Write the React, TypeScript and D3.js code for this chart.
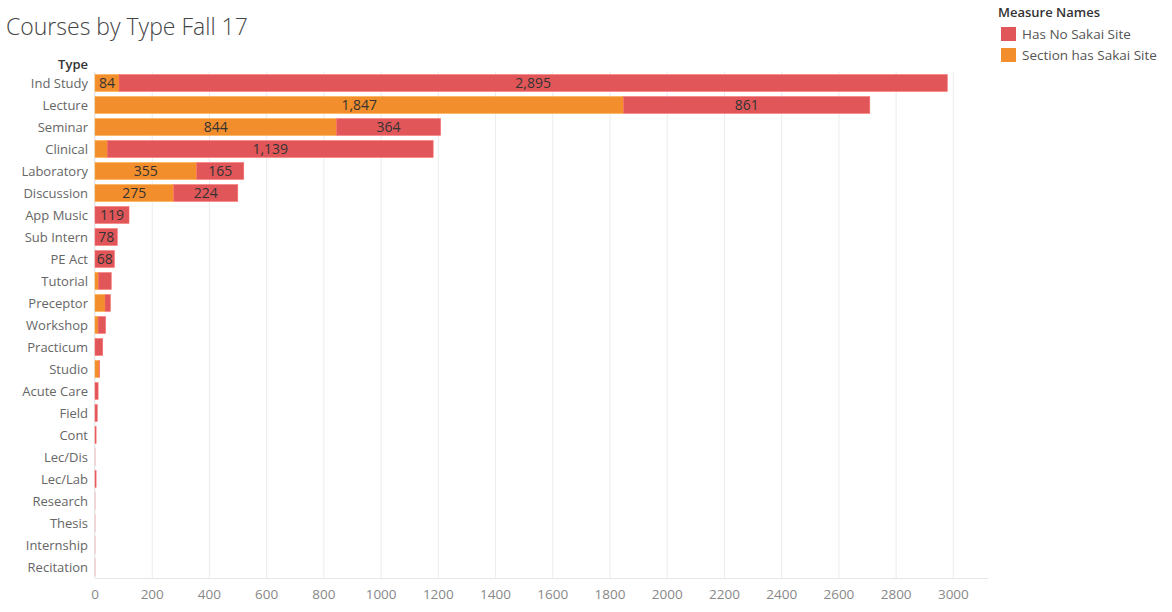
import React from "react";
import * as d3 from "d3";

const categories = ["Ind Study","Lecture","Seminar","Clinical","Laboratory","Discussion","App Music","Sub Intern","PE Act","Tutorial","Preceptor","Workshop","Practicum","Studio","Acute Care","Field","Cont","Lec/Dis","Lec/Lab","Research","Thesis","Internship","Recitation"];
const sectionHasSakai = [84,1847,844,43,355,275,0,0,0,12,35,11,0,14,0,0,0,0,0,0,0,0,0];
const hasNoSakai = [2895,861,364,1139,165,224,119,78,68,45,19,26,27,2,11,8,4,0.5,4,0.5,0.5,0.5,0.5];
const xTicks = [0,200,400,600,800,1000,1200,1400,1600,1800,2000,2200,2400,2600,2800,3000];
const seriesNames = ["Has No Sakai Site","Section has Sakai Site"];
const seriesColors = ["#E15759","#F28E2B"];

const FONT = "'Open Sans', 'Noto Sans', sans-serif";

export default function App() {
  const W = 1172, H = 612;
  const left = 95, right = 988, top = 72, bottom = 578;
  const x = d3.scaleLinear().domain([0, 3000]).range([left, left + 3000 * 0.28612]);
  const y = d3.scaleBand().domain(categories).range([top, bottom]).paddingInner(0.23).paddingOuter(0.115);
  const fmt = d3.format(",");
  const charW = 7.8;

  const bars: any[] = [];
  categories.forEach((c, i) => {
    const o = sectionHasSakai[i];
    const r = hasNoSakai[i];
    const segs = [
      { v: o, x0: 0, x1: o, color: seriesColors[1] },
      { v: r, x0: o, x1: o + r, color: seriesColors[0] },
    ];
    segs.forEach((s, j) => {
      if (s.v <= 0) return;
      const px0 = x(s.x0), px1 = x(s.x1);
      const w = px1 - px0;
      const label = fmt(s.v);
      const showLabel = w >= label.length * charW + 2;
      const pale = s.v < 1;
      bars.push(
        <g key={c + j}>
          <rect x={px0} y={y(c)} width={w} height={y.bandwidth()} fill={s.color}
            stroke={pale ? "#f3c9c9" : d3.color(s.color)!.brighter(0.5).toString()} strokeWidth={pale ? 1 : 0.6} strokeOpacity={pale ? 0.7 : 0.8} />
          {showLabel && (
            <text x={(px0 + px1) / 2} y={y(c)! + y.bandwidth() / 2} dy="0.36em" textAnchor="middle"
              fontSize={14} fill="#333" fontFamily={FONT}>{label}</text>
          )}
        </g>
      );
    });
  });

  return (
    <svg width={W} height={H} style={{ position: "absolute", left: 0, top: 0 }} fontFamily={FONT}>
      <rect width={W} height={H} fill="#fff" />
      <text x={6} y={35} fontSize={23} fill="#444" fontWeight={300}>Courses by Type Fall 17</text>
      {xTicks.map(t => (
        <line key={t} x1={x(t)} x2={x(t)} y1={top} y2={bottom} stroke="#ececec" strokeWidth={1} />
      ))}
      <line x1={left} x2={right} y1={bottom + 0.5} y2={bottom + 0.5} stroke="#e6e6e6" />
      <line x1={left - 0.5} x2={left - 0.5} y1={top} y2={bottom} stroke="#e6e6e6" />
      {xTicks.map(t => (
        <text key={"l" + t} x={x(t)} y={599} textAnchor="middle" fontSize={13.5} fill="#888">{t}</text>
      ))}
      <text x={88} y={69} textAnchor="end" fontSize={13} fontWeight={600} fill="#333">Type</text>
      {categories.map(c => (
        <text key={"c" + c} x={88} y={y(c)! + y.bandwidth() / 2} dy="0.36em" textAnchor="end" fontSize={13} fill="#666">{c}</text>
      ))}
      {bars}
      <text x={998} y={17} fontSize={13} fontWeight={600} fill="#333">Measure Names</text>
      {seriesNames.map((n, i) => (
        <g key={n}>
          <rect x={1001} y={27 + i * 21} width={15} height={14} fill={seriesColors[i]} />
          <text x={1022} y={34 + i * 21} dy="0.36em" fontSize={13.5} fill="#555">{n}</text>
        </g>
      ))}
    </svg>
  );
}
